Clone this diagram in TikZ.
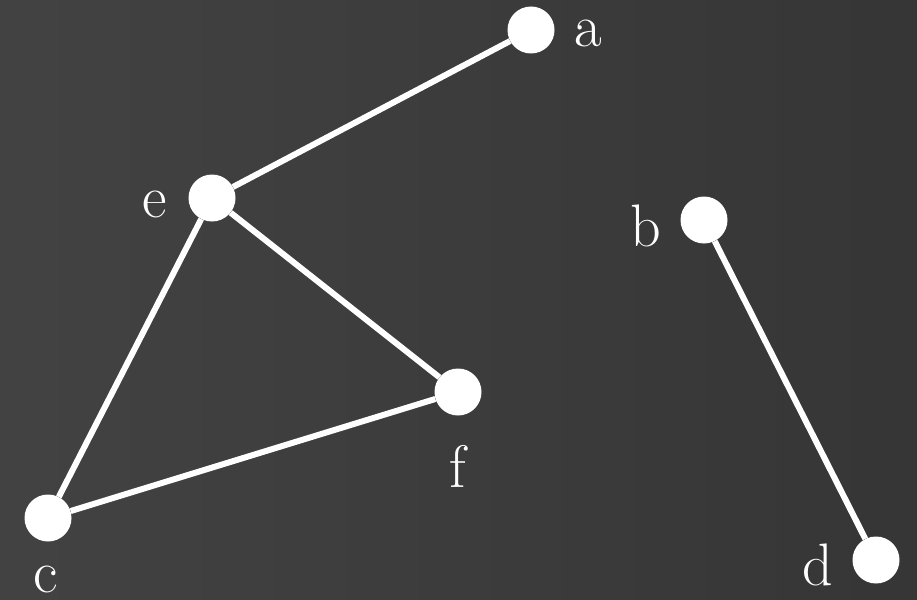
\documentclass[tikz,border=0pt]{standalone}
\begin{document}
\begin{tikzpicture}[x=1pt,y=-1pt,
  vtx/.style={circle,fill=white,inner sep=0pt,minimum size=47pt},
  lbl/.style={text=white,font=\fontsize{60}{60}\selectfont,anchor=base,inner sep=0pt},
  edge/.style={white,line width=6pt}]
\shade[left color=black!74,right color=black!79] (0,0) rectangle (917,599);
\useasboundingbox (0,0) rectangle (917,599);
\node[vtx] (a) at (531,30) {};
\node[vtx] (e) at (212,198) {};
\node[vtx] (b) at (704,220) {};
\node[vtx] (f) at (458,392) {};
\node[vtx] (c) at (48,518) {};
\node[vtx] (d) at (876,560) {};
\node[lbl] (la) at (588,47) {a};
\node[lbl] (le) at (155,217) {e};
\node[lbl] (lb) at (646,246) {b};
\node[lbl] (lf) at (458,487) {f};
\node[lbl] (lc) at (46,592) {c};
\node[lbl] (ld) at (818,585) {d};
\draw[edge] (a) -- (e);
\draw[edge] (e) -- (f);
\draw[edge] (e) -- (c);
\draw[edge] (c) -- (f);
\draw[edge] (b) -- (d);
\end{tikzpicture}
\end{document}
